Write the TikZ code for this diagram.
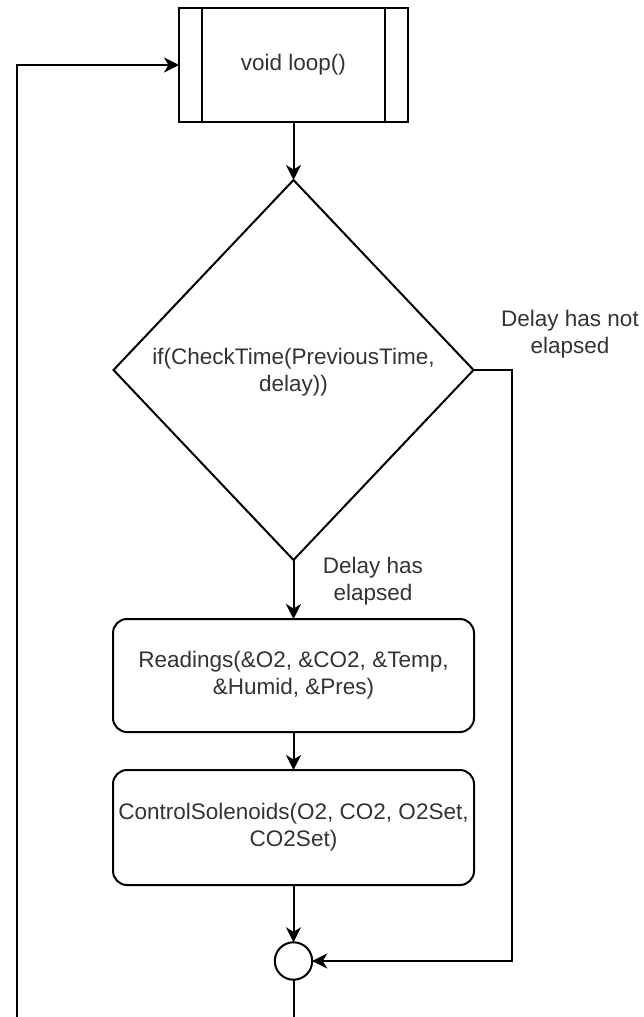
\documentclass[tikz,border=0pt]{standalone}
\usepackage{fontspec}
\setmainfont{Liberation Sans}
\usetikzlibrary{arrows.meta,shapes.geometric,calc}
\definecolor{txt}{RGB}{51,51,51}
\begin{document}
\begin{tikzpicture}[x=1pt,y=-1pt,
  every node/.style={font=\fontsize{22.5}{27}\selectfont, text=txt, align=center},
  shp/.style={draw=black, line width=2pt, fill=white, outer sep=0pt, inner sep=2pt},
  procbox/.style={shp, rectangle, minimum width=229pt, minimum height=114pt},
  decis/.style={shp, diamond, inner sep=0pt, minimum width=360pt, minimum height=380pt},
  actbox/.style={shp, rectangle, rounded corners=14pt, minimum width=361pt},
  joint/.style={shp, circle, inner sep=0pt, minimum size=37.4pt},
  lbl/.style={inner sep=0pt},
  conn/.style={draw=black, line width=2pt},
  arr/.style={conn, -{Stealth[length=15pt,width=15pt,inset=4.5pt]}}
]
\useasboundingbox (0,0) rectangle (643,1017);

\node[procbox] (loop) at (293.5,65) {void loop()};
\draw[line width=2pt] ([xshift=23pt]loop.north west) -- ([xshift=23pt]loop.south west);
\draw[line width=2pt] ([xshift=-23pt]loop.north east) -- ([xshift=-23pt]loop.south east);

\node[decis] (dec) at (293.5,370) {};
\node[lbl] (dectxt) at (293.5,372) {if(CheckTime(PreviousTime,\\delay))};

\node[actbox, minimum height=113pt] (read) at (293.5,675.5) {Readings(\&O2, \&CO2, \&Temp,\\\&Humid, \&Pres)};
\node[actbox, minimum height=115pt] (ctrl) at (293.5,827.5) {ControlSolenoids(O2, CO2, O2Set,\\CO2Set)};
\node[joint] (join) at (293.5,961) {};

\node[lbl] (notel) at (570,334) {Delay has not\\elapsed};
\node[lbl] (el) at (373,581) {Delay has\\elapsed};

\coordinate (rt) at (512,370);
\coordinate (bc) at (293.5,1017);
\coordinate (bl) at (17,1017);

\draw[arr] (loop.south) -- (dec.north);
\draw[arr] (dec.south) -- (read.north);
\draw[arr] (read.south) -- (ctrl.north);
\draw[arr] (ctrl.south) -- (join.north);
\draw[arr] (dec.east) -- (rt) |- (join.east);
\draw[conn] (join.south) -- (bc);
\draw[arr] (bl) |- (loop.west);
\end{tikzpicture}
\end{document}
